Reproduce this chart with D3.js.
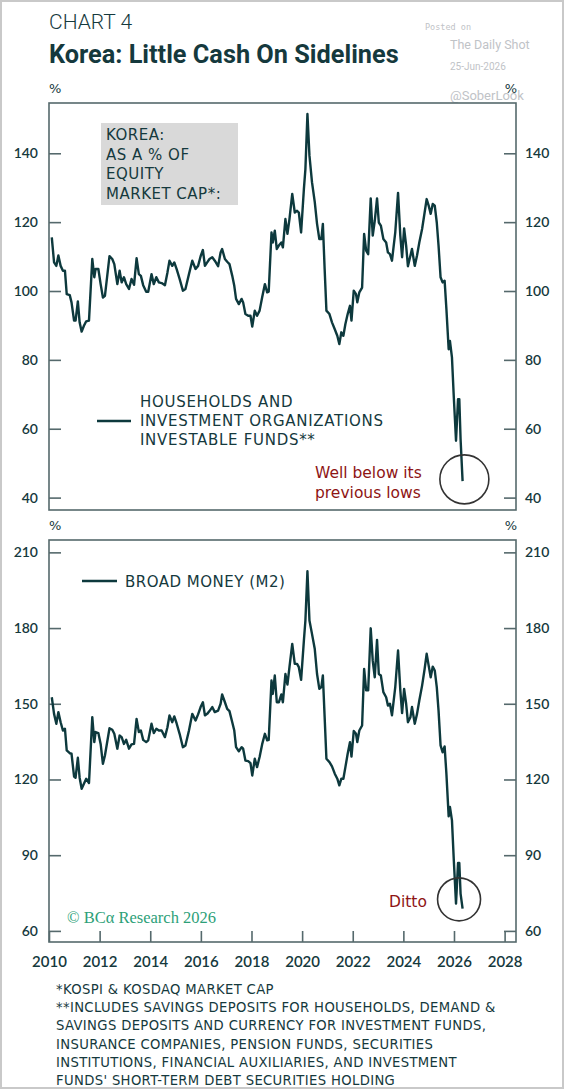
<!DOCTYPE html>
<html>
<head>
<meta charset="utf-8">
<script src="https://cdn.jsdelivr.net/npm/d3@7"></script>
<style>
  body { margin: 0; background: #ffffff; }
  svg { display: block; }
</style>
</head>
<body>
<div class="chart"></div>
<script>
/* Global Constants
============================================= */
const SVG_WIDTH = 564;
const SVG_HEIGHT = 1089;

const INK = "#15393d";
const LINE_COLOR = "#0d393d";
const FRAME_COLOR = "#55696c";
const NOTE_RED = "#8e1414";
const BCA_GREEN = "#2d9f78";
const MARK_GRAY = "#bfc3c7";

const SANS = "'DejaVu Sans', 'Open Sans', sans-serif";
const NUM = "Lato, 'Open Sans', sans-serif";

/* Data
============================================= */
// decimal years, shared by both panels
const dates = [
    2010.11, 2010.20, 2010.29, 2010.37, 2010.46, 2010.55, 2010.63, 2010.70, 2010.82, 2010.89,
    2010.99, 2011.05, 2011.14, 2011.21, 2011.29, 2011.38, 2011.47, 2011.58, 2011.71, 2011.79,
    2011.84, 2011.95, 2012.04, 2012.13, 2012.21, 2012.39, 2012.50, 2012.58, 2012.70, 2012.79,
    2012.87, 2012.96, 2013.05, 2013.16, 2013.26, 2013.36, 2013.46, 2013.55, 2013.63, 2013.72,
    2013.84, 2013.92, 2014.05, 2014.14, 2014.24, 2014.34, 2014.45, 2014.58, 2014.68, 2014.76,
    2014.87, 2014.95, 2015.04, 2015.16, 2015.29, 2015.39, 2015.53, 2015.66, 2015.79, 2015.89,
    2015.99, 2016.08, 2016.16, 2016.25, 2016.34, 2016.45, 2016.55, 2016.68, 2016.78, 2016.84,
    2016.95, 2017.04, 2017.13, 2017.24, 2017.32, 2017.39, 2017.50, 2017.61, 2017.67, 2017.76,
    2017.87, 2017.96, 2018.03, 2018.13, 2018.22, 2018.32, 2018.42, 2018.53, 2018.62, 2018.68,
    2018.79, 2018.84, 2018.92, 2019.00, 2019.08, 2019.18, 2019.24, 2019.34, 2019.42, 2019.50,
    2019.61, 2019.71, 2019.80, 2019.87, 2019.96, 2020.07, 2020.13, 2020.21, 2020.29, 2020.39,
    2020.50, 2020.59, 2020.68, 2020.76, 2020.82, 2020.89, 2020.96, 2021.08, 2021.18, 2021.29,
    2021.39, 2021.47, 2021.55, 2021.63, 2021.71, 2021.80, 2021.89, 2021.95, 2022.04, 2022.13,
    2022.18, 2022.26, 2022.37, 2022.45, 2022.53, 2022.61, 2022.71, 2022.79, 2022.87, 2022.96,
    2023.03, 2023.11, 2023.21, 2023.32, 2023.39, 2023.47, 2023.55, 2023.68, 2023.79, 2023.88,
    2023.95, 2024.03, 2024.11, 2024.18, 2024.28, 2024.34, 2024.45, 2024.54, 2024.63, 2024.74,
    2024.84, 2024.92, 2025.00, 2025.08, 2025.16, 2025.24, 2025.32, 2025.39, 2025.47, 2025.55,
    2025.63, 2025.70, 2025.79, 2025.84, 2025.92, 2025.99, 2026.08, 2026.16, 2026.21, 2026.26,
    2026.34
];

// households & investment organizations investable funds, % of equity market cap
const investableFunds = [
    115.6, 108.3, 107.3, 110.3, 107.3, 105.9, 105.9, 99.1, 98.8, 96.7,
    91.4, 91.4, 97.0, 90.9, 88.2, 89.9, 91.2, 91.4, 109.3, 104.0,
    106.4, 106.4, 102.0, 98.1, 98.6, 110.1, 109.3, 107.8, 102.0, 105.9,
    102.5, 104.0, 102.0, 100.6, 103.5, 101.8, 109.5, 104.9, 104.4, 101.7,
    99.8, 99.8, 104.9, 102.0, 104.0, 102.5, 102.3, 101.7, 105.4, 108.8,
    107.3, 108.3, 106.4, 103.5, 100.1, 100.6, 104.9, 108.8, 106.4, 107.3,
    110.1, 111.9, 107.3, 108.3, 109.3, 109.8, 108.8, 107.2, 111.2, 112.2,
    109.3, 108.5, 107.8, 104.4, 101.5, 97.7, 96.2, 97.7, 96.7, 93.3,
    92.8, 92.8, 89.7, 94.3, 92.8, 94.3, 98.1, 102.0, 99.6, 99.8,
    117.0, 114.1, 117.5, 112.2, 113.2, 114.1, 112.7, 120.9, 116.6, 120.9,
    128.2, 122.8, 123.3, 122.8, 117.0, 129.6, 135.4, 151.4, 139.3, 131.6,
    125.8, 119.5, 115.1, 115.1, 119.5, 106.4, 94.3, 93.3, 90.9, 88.9,
    87.0, 84.6, 88.0, 87.0, 90.4, 93.3, 95.7, 91.4, 100.1, 99.1,
    96.7, 99.6, 101.0, 116.6, 111.7, 110.7, 126.9, 116.1, 120.4, 126.9,
    119.9, 119.0, 115.1, 114.1, 111.2, 110.7, 108.8, 117.0, 128.5, 116.1,
    109.8, 118.2, 113.2, 107.2, 110.3, 112.2, 107.3, 110.3, 114.1, 118.0,
    122.8, 126.7, 124.8, 122.4, 125.3, 124.8, 119.9, 113.2, 104.0, 102.5,
    103.0, 94.8, 83.1, 85.5, 80.7, 69.6, 56.5, 68.6, 68.6, 57.0,
    44.8
];

// broad money (M2), % of equity market cap
const broadMoney = [
    152.6, 146.0, 142.1, 146.7, 142.7, 139.4, 140.1, 131.5, 130.4, 130.2,
    121.2, 120.7, 128.6, 120.7, 116.3, 118.3, 120.3, 118.6, 144.7, 134.8,
    138.8, 138.4, 134.1, 126.2, 129.5, 140.3, 139.7, 138.1, 132.2, 137.4,
    136.8, 134.1, 135.7, 132.2, 133.9, 134.1, 144.0, 138.8, 139.4, 135.7,
    134.8, 135.5, 142.1, 138.4, 140.1, 139.4, 139.4, 136.8, 140.7, 145.4,
    142.7, 145.0, 142.3, 138.1, 132.8, 133.5, 139.4, 146.0, 143.4, 145.8,
    148.7, 150.6, 145.4, 146.0, 147.1, 148.7, 146.7, 147.3, 150.0, 153.7,
    150.6, 148.0, 147.1, 142.7, 139.4, 132.8, 131.2, 132.8, 132.2, 127.5,
    127.3, 126.5, 121.6, 128.2, 124.9, 128.9, 133.9, 138.1, 135.5, 135.7,
    159.2, 153.9, 161.2, 150.6, 150.6, 153.7, 150.6, 161.8, 157.6, 164.5,
    173.7, 165.8, 165.8, 164.5, 159.5, 175.0, 183.0, 202.5, 183.0, 177.7,
    171.7, 161.8, 155.9, 156.6, 161.2, 144.7, 128.2, 126.9, 125.2, 122.3,
    120.3, 117.7, 120.3, 120.3, 124.9, 130.2, 134.8, 129.1, 139.2, 138.1,
    134.8, 139.4, 141.4, 163.8, 155.3, 155.3, 179.9, 167.1, 160.5, 175.3,
    161.8, 161.2, 154.6, 152.6, 149.3, 150.0, 145.4, 156.6, 171.1, 155.3,
    146.3, 155.9, 150.0, 142.7, 144.7, 148.7, 142.1, 146.0, 151.3, 157.2,
    163.8, 169.8, 165.1, 160.5, 164.7, 163.2, 156.6, 147.3, 133.5, 130.8,
    133.1, 122.3, 105.4, 109.1, 103.8, 88.6, 70.8, 86.9, 86.9, 74.8,
    68.8
];

const xTicks = [2010, 2012, 2014, 2016, 2018, 2020, 2022, 2024, 2026, 2028];
const topTicks = [40, 60, 80, 100, 120, 140];
const bottomTicks = [60, 90, 120, 150, 180, 210];

const boxLines = ["KOREA:", "AS A % OF", "EQUITY", "MARKET CAP*:"];
const topLegend = ["HOUSEHOLDS AND", "INVESTMENT ORGANIZATIONS", "INVESTABLE FUNDS**"];
const bottomLegend = "BROAD MONEY (M2)";

// circled points: [year, value]
const topCircle = [2026.41, 45.3];
const bottomCircle = [2026.2, 72.5];

const footnotes = [
    "*KOSPI & KOSDAQ MARKET CAP",
    "**INCLUDES SAVINGS DEPOSITS FOR HOUSEHOLDS, DEMAND &",
    "SAVINGS DEPOSITS AND CURRENCY FOR INVESTMENT FUNDS,",
    "INSURANCE COMPANIES, PENSION FUNDS, SECURITIES",
    "INSTITUTIONS, FINANCIAL AUXILIARIES, AND INVESTMENT",
    "FUNDS' SHORT-TERM DEBT SECURITIES HOLDING"
];

/* Layout
============================================= */
var left = 49,
    right = 516;

var topPanel = { top: 103, bottom: 510 },
    bottomPanel = { top: 540, bottom: 942 };

var svg = d3.select(".chart")
    .append("svg")
    .attr("width", SVG_WIDTH)
    .attr("height", SVG_HEIGHT);

svg.append("rect")
    .attr("x", 1)
    .attr("y", 1)
    .attr("width", SVG_WIDTH - 2)
    .attr("height", SVG_HEIGHT - 2)
    .attr("fill", "#ffffff")
    .attr("stroke", "#c9c9c9")
    .attr("stroke-width", 2);

var xScale = d3.scaleLinear().domain([2010, 2028.45]).range([left, right]);
var yTop = d3.scaleLinear().domain([36.4, 154.6]).range([topPanel.bottom, topPanel.top]);
var yBottom = d3.scaleLinear().domain([55.6, 214.9]).range([bottomPanel.bottom, bottomPanel.top]);

/* Titles & watermark
============================================= */
svg.append("text")
    .attr("x", left)
    .attr("y", 29)
    .attr("font-family", "Roboto, sans-serif")
    .attr("font-weight", 300)
    .attr("font-size", 21)
    .attr("fill", INK)
    .text("CHART 4");

svg.append("text")
    .attr("x", left)
    .attr("y", 63)
    .attr("font-family", "Roboto, sans-serif")
    .attr("font-weight", 700)
    .attr("font-size", 25.3)
    .attr("fill", INK)
    .text("Korea: Little Cash On Sidelines");

var mark = svg.append("g").attr("fill", MARK_GRAY);
mark.append("text").attr("x", 425).attr("y", 30)
    .attr("font-family", "'DejaVu Sans Mono', monospace").attr("font-size", 8.5).text("Posted on");
mark.append("text").attr("x", 450).attr("y", 49)
    .attr("font-family", "Roboto, sans-serif").attr("font-size", 12.5).text("The Daily Shot");
mark.append("text").attr("x", 450).attr("y", 70)
    .attr("font-family", "Roboto, sans-serif").attr("font-size", 10).text("25-Jun-2026");
mark.append("text").attr("x", 450).attr("y", 100)
    .attr("font-family", "Roboto, sans-serif").attr("font-size", 13).text("@SoberLook");

/* Panels
============================================= */
drawPanel(topPanel, yTop, topTicks, investableFunds, false);
drawPanel(bottomPanel, yBottom, bottomTicks, broadMoney, true);

// "%" unit labels
[topPanel.top - 15, bottomPanel.top - 15].forEach(function(y) {
    svg.append("text").attr("x", left).attr("y", y + 5)
        .attr("font-family", SANS).attr("font-size", 13).attr("fill", INK).text("%");
    svg.append("text").attr("x", right + 1).attr("y", y + 5)
        .attr("text-anchor", "end")
        .attr("font-family", SANS).attr("font-size", 13).attr("fill", INK).text("%");
});

/* Top panel annotations
============================================= */
svg.append("rect")
    .attr("x", 101)
    .attr("y", 123)
    .attr("width", 137)
    .attr("height", 82)
    .attr("fill", "#d9d9d9");

svg.append("g")
    .selectAll("text")
    .data(boxLines)
    .enter()
    .append("text")
    .attr("x", 106)
    .attr("y", function(d, i) { return 140 + i * 19.7; })
    .attr("font-family", SANS)
    .attr("font-size", 15)
    .attr("letter-spacing", 0.5)
    .attr("fill", INK)
    .text(function(d) { return d; });

svg.append("line")
    .attr("x1", 97).attr("x2", 131)
    .attr("y1", 421).attr("y2", 421)
    .attr("stroke", LINE_COLOR)
    .attr("stroke-width", 2.4);

svg.append("g")
    .selectAll("text")
    .data(topLegend)
    .enter()
    .append("text")
    .attr("x", 140)
    .attr("y", function(d, i) { return 407 + i * 19; })
    .attr("font-family", SANS)
    .attr("font-size", 15)
    .attr("letter-spacing", 0.7)
    .attr("fill", INK)
    .text(function(d) { return d; });

svg.append("text")
    .attr("x", 315).attr("y", 478)
    .attr("font-family", SANS).attr("font-size", 15.5).attr("fill", NOTE_RED)
    .text("Well below its");
svg.append("text")
    .attr("x", 315).attr("y", 498)
    .attr("font-family", SANS).attr("font-size", 15.5).attr("fill", NOTE_RED)
    .text("previous lows");

svg.append("circle")
    .attr("cx", xScale(topCircle[0]))
    .attr("cy", yTop(topCircle[1]))
    .attr("r", 24.5)
    .attr("fill", "none")
    .attr("stroke", "#333333")
    .attr("stroke-width", 1.6);

/* Bottom panel annotations
============================================= */
svg.append("line")
    .attr("x1", 82).attr("x2", 117)
    .attr("y1", 581).attr("y2", 581)
    .attr("stroke", LINE_COLOR)
    .attr("stroke-width", 2.4);

svg.append("text")
    .attr("x", 125).attr("y", 586.5)
    .attr("font-family", SANS).attr("font-size", 15)
    .attr("letter-spacing", 0.5).attr("fill", INK)
    .text(bottomLegend);

svg.append("text")
    .attr("x", 389).attr("y", 906.5)
    .attr("font-family", SANS).attr("font-size", 15.5).attr("fill", NOTE_RED)
    .text("Ditto");

svg.append("circle")
    .attr("cx", xScale(bottomCircle[0]))
    .attr("cy", yBottom(bottomCircle[1]))
    .attr("r", 21.5)
    .attr("fill", "none")
    .attr("stroke", "#333333")
    .attr("stroke-width", 1.6);

svg.append("text")
    .attr("x", 67).attr("y", 923)
    .attr("font-family", "'Liberation Serif', serif").attr("font-size", 16.5).attr("fill", BCA_GREEN)
    .text("\u00A9 BC\u03B1 Research 2026");

/* Footnotes
============================================= */
svg.append("g")
    .selectAll("text")
    .data(footnotes)
    .enter()
    .append("text")
    .attr("x", 56)
    .attr("y", function(d, i) { return 994 + i * 18.2; })
    .attr("font-family", SANS)
    .attr("font-size", 13.2)
    .attr("letter-spacing", 0.35)
    .attr("fill", INK)
    .text(function(d) { return d; });


/* Functions
============================================= */

/*
 * draws frame, y axes on both sides, the series line
 * and (optionally) the x axis
 *
 * @param panel, yScale, ticks, values, withXaxis
 */
function drawPanel(panel, yScale, ticks, values, withXaxis) {
    var g = svg.append("g");

    var leftAxis = d3.axisLeft(yScale)
        .tickValues(ticks)
        .tickSize(-12)
        .tickPadding(11);

    var rightAxis = d3.axisRight(yScale)
        .tickValues(ticks)
        .tickSize(-12)
        .tickPadding(9);

    var la = g.append("g")
        .attr("transform", `translate(${left}, 0)`)
        .call(leftAxis);

    var ra = g.append("g")
        .attr("transform", `translate(${right}, 0)`)
        .call(rightAxis);

    [la, ra].forEach(styleAxis);

    if (withXaxis) {
        var bottomAxis = d3.axisBottom(xScale)
            .tickValues(xTicks)
            .tickFormat(d3.format("d"))
            .tickSize(-11)
            .tickPadding(14);

        var xa = g.append("g")
            .attr("transform", `translate(0, ${panel.bottom})`)
            .call(bottomAxis);
        styleAxis(xa);
        xa.selectAll("text").attr("font-size", 15);
    }

    var line = d3.line()
        .x(function(d, i) { return xScale(dates[i]); })
        .y(function(d) { return yScale(d); });

    g.append("path")
        .datum(values)
        .attr("d", line)
        .attr("fill", "none")
        .attr("stroke", LINE_COLOR)
        .attr("stroke-width", 2.4)
        .attr("stroke-linejoin", "round");

    g.append("rect")
        .attr("x", left)
        .attr("y", panel.top)
        .attr("width", right - left)
        .attr("height", panel.bottom - panel.top)
        .attr("fill", "none")
        .attr("stroke", FRAME_COLOR)
        .attr("stroke-width", 1.6);
}

/*
 * removes the domain path and sets tick colours / fonts
 */
function styleAxis(axis) {
    axis.select(".domain").remove();
    axis.selectAll(".tick line")
        .attr("stroke", FRAME_COLOR)
        .attr("stroke-width", 1.6);
    axis.selectAll(".tick text")
        .attr("font-family", NUM)
        .attr("font-weight", 600)
        .attr("font-size", 14)
        .attr("fill", INK);
}
</script>
</body>
</html>
